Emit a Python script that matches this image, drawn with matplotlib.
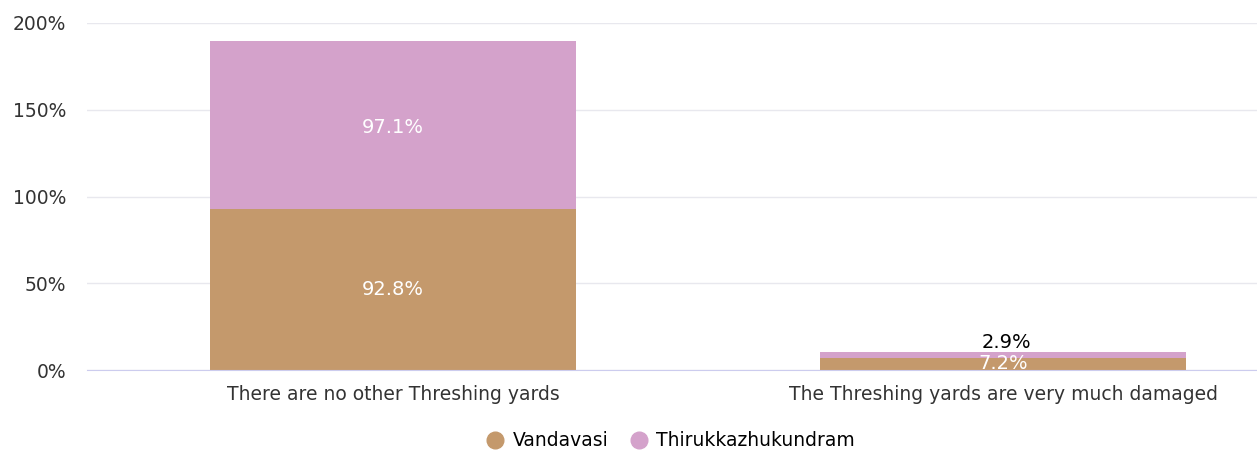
import matplotlib
matplotlib.use("Agg")
import matplotlib.pyplot as plt
from matplotlib.lines import Line2D

plt.rcParams["font.family"] = ["DejaVu Sans"]

categories = ["There are no other Threshing yards", "The Threshing yards are very much damaged"]
series_names = ["Vandavasi", "Thirukkazhukundram"]
vandavasi = [92.8, 7.2]
thirukkazhukundram = [97.1, 2.9]
yticks = [0, 50, 100, 150, 200]
colors = ["#C4996C", "#D4A2CB"]

fig = plt.figure(figsize=(12.57, 4.51), dpi=100)
ax = fig.add_axes([87/1257, (451-370)/451, 1 - 87/1257, (370-23)/451])

x = list(range(len(categories)))
w = 0.6
ax.bar(x, vandavasi, width=w, color=colors[0], zorder=2, linewidth=0)
ax.bar(x, thirukkazhukundram, width=w, bottom=vandavasi, color=colors[1], zorder=2, linewidth=0)

for i in x:
    v = vandavasi[i]
    t = thirukkazhukundram[i]
    ax.text(i, v/2, f"{v}%", ha="center", va="center", color="white", fontsize=14, zorder=3)
    if t > 10:
        ax.text(i, v + t/2 - 1.5, f"{t}%", ha="center", va="center", color="white", fontsize=14, zorder=3)
    else:
        ax.text(i + 0.006, v + t + 0.3, f"{t}%", ha="center", va="bottom", color="black", fontsize=14, zorder=3)

ax.set_xlim(-0.502, 1.416)
ax.set_ylim(0, 200)
ax.set_yticks(yticks)
ax.set_yticklabels([f"{v}%" for v in yticks], fontsize=13.5, color="#333333")
ax.set_xticks(x)
ax.set_xticklabels(categories, fontsize=13.5, color="#333333")
ax.tick_params(axis="x", length=0, pad=11)
ax.tick_params(axis="y", length=0, pad=15)
ax.grid(axis="y", color="#e8e8ee", linewidth=1, zorder=0)
for s in ["top", "right", "left"]:
    ax.spines[s].set_visible(False)
ax.spines["bottom"].set_color("#ccccee")

handles = [Line2D([], [], marker="o", linestyle="", markersize=12, color=c) for c in colors]
fig.legend(handles, series_names, loc="center", bbox_to_anchor=(670.5/1257, 1 - 441/451), ncol=2,
           frameon=False, fontsize=13.5, handletextpad=0.45, columnspacing=1.1, handlelength=1.0,
           borderpad=0, borderaxespad=0)

fig.savefig("out.png", dpi=100)
